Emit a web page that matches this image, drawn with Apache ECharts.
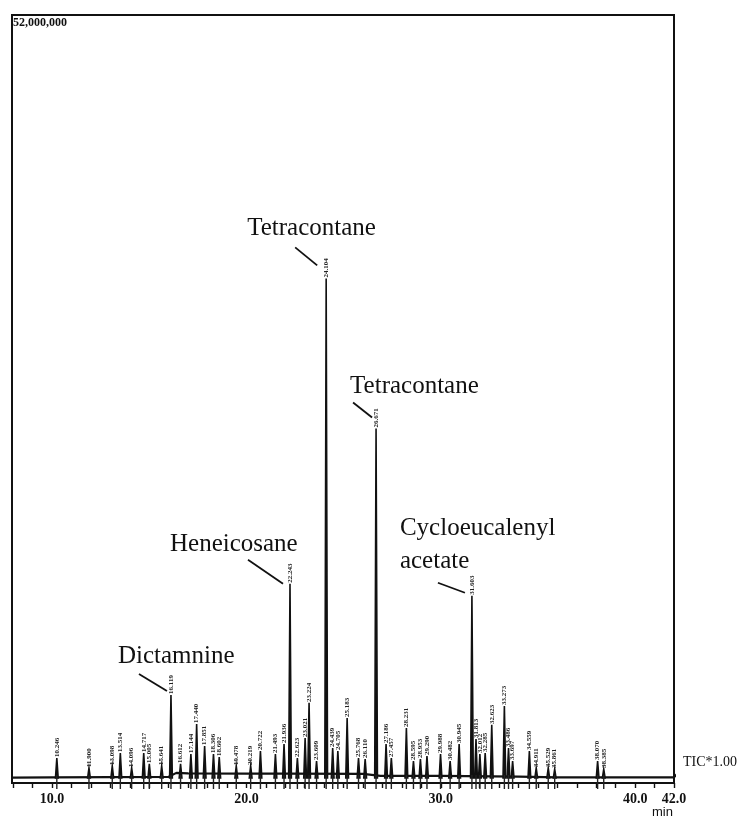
<!DOCTYPE html>
<html><head><meta charset="utf-8">
<script src="https://cdn.jsdelivr.net/npm/echarts@6/dist/echarts.min.js"></script>
<style>html,body{margin:0;padding:0;background:#fff}#c{width:738px;height:818px}</style>
</head><body><div id="c"></div>
<script>
// Peak retention times (min), peak labels and heights (millions of counts)
const peakLabels = ['10.246','11.900','13.098','13.514','14.096','14.717','15.005','15.641','16.119','16.612','17.144','17.440','17.851','18.306','18.602','19.478','20.219','20.722','21.493','21.936','22.243','22.623','23.021','23.224','23.609','24.104','24.439','24.705','25.183','25.768','26.110','26.671','27.186','27.457','28.231','28.595','28.953','29.290','29.988','30.482','30.945','31.603','31.813','32.012','32.285','32.623','33.273','33.486','33.697','34.559','34.911','35.529','35.861','38.070','38.385'];
const peakTimes = peakLabels.map(Number);
const peakHeights = [1.36,0.68,0.82,1.71,0.68,1.71,0.96,0.82,5.66,0.96,1.64,3.68,2.18,1.64,1.43,0.82,0.82,1.84,1.64,2.32,13.24,1.36,2.73,5.12,1.16,34.05,2.05,1.84,4.09,1.36,1.30,23.82,2.32,1.36,3.41,1.16,1.30,1.50,1.64,1.16,2.32,12.42,2.66,1.64,1.71,3.62,4.91,2.05,1.16,1.84,0.68,0.68,0.61,1.16,0.61];

// Identified compounds
const annotatedTimes = [16.119, 22.243, 24.104, 26.671, 31.603];
const annotatedNames = ['Dictamnine', 'Heneicosane', 'Tetracontane', 'Tetracontane', 'Cycloeucalenyl\nacetate'];

// Baseline of the TIC trace
const baseTimes  = [7.94, 10.0, 16.0, 16.4, 17.0, 20.0, 22.0, 26.0, 26.9, 30.0, 34.0, 36.0, 42.0, 42.35];
const baseValues = [0.03, 0.05, 0.08, 0.35, 0.32, 0.30, 0.30, 0.28, 0.15, 0.15, 0.10, 0.05, 0.05, 0.55];

// Axis ticks / labels
const xTickValues = [8,9,10,11,12,13,14,15,16,17,18,19,20,21,22,23,24,25,26,27,28,29,30,31,32,33,34,35,36,37,38,39,40,41,42];
const xLabelValues = [10, 20, 30, 40, 42];
const yTopLabel = '52,000,000';
const traceLabel = 'TIC*1.00';
const xUnit = 'min';

// annotation layout (pixel offsets relative to the peak top)
const annotLayout = [
  {tx:-53, ty:-55, l:[-32,-21,-4,-4]},
  {tx:-120, ty:-56, l:[-42,-24,-7,0]},
  {tx:-79, ty:-66, l:[-31,-31,-9,-13]},
  {tx:-26, ty:-59, l:[-23,-26,-4,-11]},
  {tx:-72, ty:-84, l:[-34,-13,-7,-3]}
];

const chart = echarts.init(document.getElementById('c'), null, {renderer:'canvas'});

function renderItem(params, api) {
  const i = api.value(2);
  const t = api.value(0), h = api.value(1);
  const top = api.coord([t, h]);
  const l = api.coord([t - 0.07, 0]);
  const r = api.coord([t + 0.07, 0]);
  const children = [
    {type:'polygon', shape:{points:[l, top, r]}, style:{fill:'#111', stroke:'#111', lineWidth:1.6}},
    {type:'line', shape:{x1:top[0], y1:l[1]-3, x2:top[0], y2:l[1]+11}, style:{stroke:'#222', lineWidth:1.4}},
    {type:'text', x: top[0], y: top[1]-1, rotation: Math.PI/2,
      style:{text: peakLabels[i], font:'bold 7px "Liberation Serif"', fill:'#222', align:'left', verticalAlign:'middle'}}
  ];
  const a = annotatedTimes.indexOf(peakTimes[i]);
  if (a >= 0) {
    const L = annotLayout[a];
    children.push({type:'line', shape:{x1:top[0]+L.l[0], y1:top[1]+L.l[1], x2:top[0]+L.l[2], y2:top[1]+L.l[3]},
      style:{stroke:'#111', lineWidth:1.8}});
    children.push({type:'text', x: top[0]+L.tx, y: top[1]+L.ty,
      style:{text: annotatedNames[a], font:'25px "Liberation Serif"', fill:'#111', align:'left', verticalAlign:'top', lineHeight:33}});
  }
  return {type:'group', children};
}

chart.setOption({
  animation: false,
  backgroundColor: '#fff',
  grid: {left:12, right:64, top:15, bottom:35, show:true, borderColor:'#111', borderWidth:2, backgroundColor:'transparent'},
  xAxis: {
    type:'value', min:7.94, max:42,
    axisLine:{onZero:false, lineStyle:{color:'#111', width:1.8}},
    axisTick:{show:true, customValues:xTickValues, length:5, inside:false, lineStyle:{color:'#111', width:1.4}},
    axisLabel:{customValues:xLabelValues, formatter:v => Number(v).toFixed(1), color:'#111',
      fontFamily:'Liberation Serif', fontWeight:'bold', fontSize:14, margin:9},
    splitLine:{show:false}
  },
  yAxis: {type:'value', min:-0.34, max:52, show:false},
  graphic: [
    {type:'text', left:13, top:17, style:{text:yTopLabel, font:'bold 12px "Liberation Serif"', fill:'#111'}},
    {type:'text', left:683, top:755, style:{text:traceLabel, font:'14px "Liberation Serif"', fill:'#111'}},
    {type:'text', left:652, top:806, style:{text:xUnit, font:'13px "Liberation Sans"', fill:'#111'}}
  ],
  series: [
    {type:'line', data: baseTimes.map((t,i)=>[t, baseValues[i]]), showSymbol:false, clip:false,
      lineStyle:{color:'#111', width:2.2}, z:2},
    {type:'custom', renderItem, clip:false, z:3,
      encode:{x:0, y:1},
      data: peakTimes.map((t,i)=>[t, peakHeights[i], i])}
  ]
});
</script></body></html>
